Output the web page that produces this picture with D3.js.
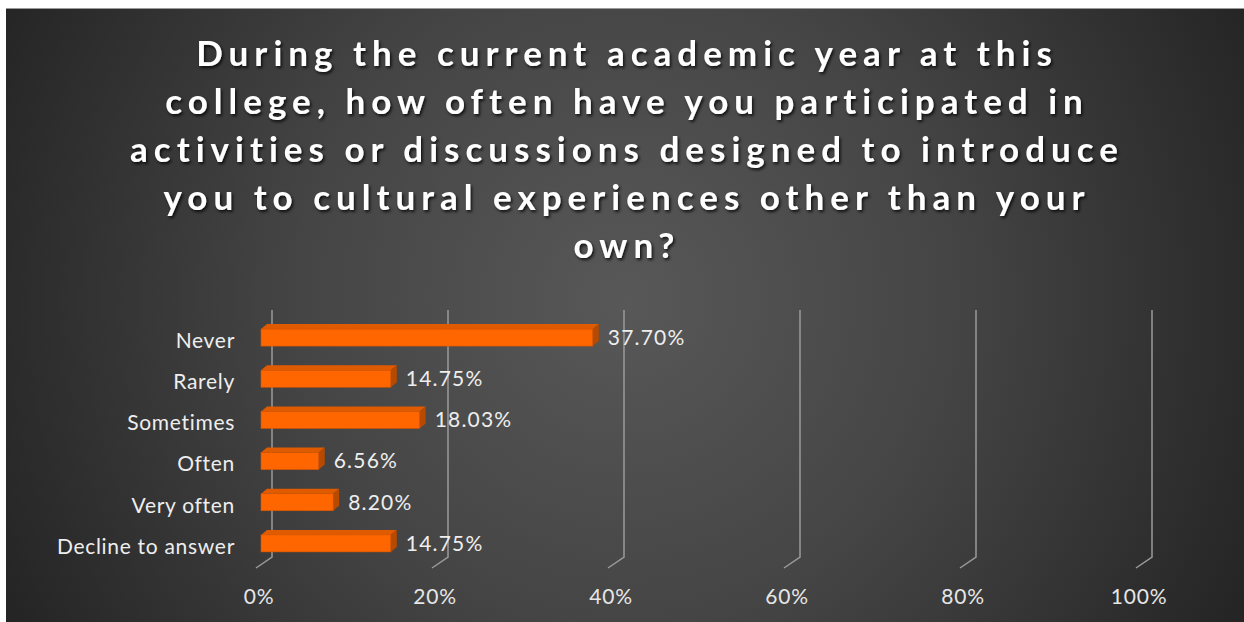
<!DOCTYPE html>
<html>
<head>
<meta charset="utf-8">
<script src="https://cdn.jsdelivr.net/npm/d3@7"></script>
<style>
  body { margin: 0; background: #fff; }
  svg { display: block; }
</style>
</head>
<body>
<div id="chart"></div>
<script>
// data
var categories = ["Never", "Rarely", "Sometimes", "Often", "Very often", "Decline to answer"];
var values = [0.3770, 0.1475, 0.1803, 0.0656, 0.0820, 0.1475];
var ticks = [0, 0.2, 0.4, 0.6, 0.8, 1.0];
var titleLines = [
  "During the current academic year at this",
  "college, how often have you participated in",
  "activities or discussions designed to introduce",
  "you to cultural experiences other than your",
  "own?"
];

function init() {
  var width = 1244, height = 622;
  var depthX = 6, depthY = 5;     // bar depth offset
  var wallX = 11;                 // back wall offset from bar front
  var floorX = -16, floorY = 11;  // floor slant of gridlines
  var font = "Lato, 'Open Sans', sans-serif";

  var svg = d3.select("#chart").append("svg")
    .attr("width", width)
    .attr("height", height);

  var defs = svg.append("defs");
  var grad = defs.append("radialGradient")
    .attr("id", "bg")
    .attr("gradientUnits", "userSpaceOnUse")
    .attr("cx", 625).attr("cy", 300).attr("r", 720);
  grad.append("stop").attr("offset", "0%").attr("stop-color", "#585858");
  grad.append("stop").attr("offset", "45%").attr("stop-color", "#454545");
  grad.append("stop").attr("offset", "100%").attr("stop-color", "#222222");

  var shadow = defs.append("filter").attr("id", "shadow")
    .attr("x", "-10%").attr("y", "-30%").attr("width", "120%").attr("height", "160%");
  shadow.append("feDropShadow")
    .attr("dx", 1.5).attr("dy", 2).attr("stdDeviation", 1.5)
    .attr("flood-color", "#000").attr("flood-opacity", 0.8);

  // chart area (image has white margin on top and left)
  svg.append("rect")
    .attr("x", 6).attr("y", 8)
    .attr("width", width - 6).attr("height", height - 8)
    .attr("fill", "url(#bg)");
  svg.append("line")
    .attr("x1", 6).attr("x2", width).attr("y1", 8.5).attr("y2", 8.5)
    .attr("stroke", "#9a9a9a").attr("stroke-width", 1);

  // title
  svg.append("g")
    .attr("filter", "url(#shadow)")
    .selectAll("text")
    .data(titleLines)
    .enter()
    .append("text")
    .attr("x", 627)
    .attr("y", function(d, i) { return 66 + i * 48; })
    .attr("text-anchor", "middle")
    .style("font-family", font)
    .style("font-weight", "bold")
    .style("font-size", "35px")
    .style("letter-spacing", "6px")
    .style("fill", "#ffffff")
    .text(function(d) { return d; });

  var x = d3.scaleLinear()
    .domain([0, 1])
    .range([261, 1141]);

  var y = d3.scalePoint()
    .domain(categories)
    .range([317, 564])
    .padding(0.5);

  var barH = 17;
  var gridTop = 310, gridBottom = 557;

  // gridlines on back wall with floor slant
  svg.append("g")
    .selectAll("path")
    .data(ticks)
    .enter()
    .append("path")
    .attr("d", function(d) {
      var gx = x(d) + wallX;
      return "M" + gx + "," + gridTop + "L" + gx + "," + gridBottom +
        "L" + (gx + floorX) + "," + (gridBottom + floorY);
    })
    .attr("fill", "none")
    .attr("stroke", "#9a9a9a")
    .attr("stroke-width", 1.5);

  // axis labels
  svg.append("g")
    .selectAll("text")
    .data(ticks)
    .enter()
    .append("text")
    .attr("x", function(d) { return x(d) - 2; })
    .attr("y", 599)
    .attr("text-anchor", "middle")
    .attr("dominant-baseline", "middle")
    .style("font-family", font)
    .style("font-size", "21px")
    .style("letter-spacing", "0.8px")
    .style("fill", "#e6e6e6")
    .text(d3.format(".0%"));

  // bars
  var bars = svg.append("g")
    .selectAll("g")
    .data(values)
    .enter()
    .append("g");

  bars.append("path")
    .attr("d", function(d, i) {
      var top = y(categories[i]) - barH / 2;
      var x0 = x(0), x1 = x(d);
      return "M" + x0 + "," + top + "L" + (x0 + depthX) + "," + (top - depthY) +
        "L" + (x1 + depthX) + "," + (top - depthY) + "L" + x1 + "," + top + "Z";
    })
    .attr("fill", "#e05a00");

  bars.append("path")
    .attr("d", function(d, i) {
      var top = y(categories[i]) - barH / 2;
      var x1 = x(d);
      return "M" + x1 + "," + top + "L" + (x1 + depthX) + "," + (top - depthY) +
        "L" + (x1 + depthX) + "," + (top + barH - depthY) + "L" + x1 + "," + (top + barH) + "Z";
    })
    .attr("fill", "#b84a00");

  bars.append("rect")
    .attr("x", x(0))
    .attr("y", function(d, i) { return y(categories[i]) - barH / 2; })
    .attr("width", function(d) { return x(d) - x(0); })
    .attr("height", barH)
    .attr("fill", "#ff6600")
    .attr("stroke", "#d65500")
    .attr("stroke-width", 0.6);

  // value labels
  bars.append("text")
    .attr("x", function(d) { return x(d) + depthX + 9; })
    .attr("y", function(d, i) { return y(categories[i]) + 2; })
    .attr("dominant-baseline", "middle")
    .style("font-family", font)
    .style("font-size", "21px")
    .style("letter-spacing", "1.2px")
    .style("fill", "#eeeeee")
    .text(function(d) { return d3.format(".2%")(d); });

  // category labels
  svg.append("g")
    .selectAll("text")
    .data(categories)
    .enter()
    .append("text")
    .attr("x", 235)
    .attr("y", function(d) { return y(d) + 5; })
    .attr("text-anchor", "end")
    .attr("dominant-baseline", "middle")
    .style("font-family", font)
    .style("font-size", "21px")
    .style("letter-spacing", "0.7px")
    .style("fill", "#eeeeee")
    .text(function(d) { return d; });
}

window.onload = init;
</script>
</body>
</html>
